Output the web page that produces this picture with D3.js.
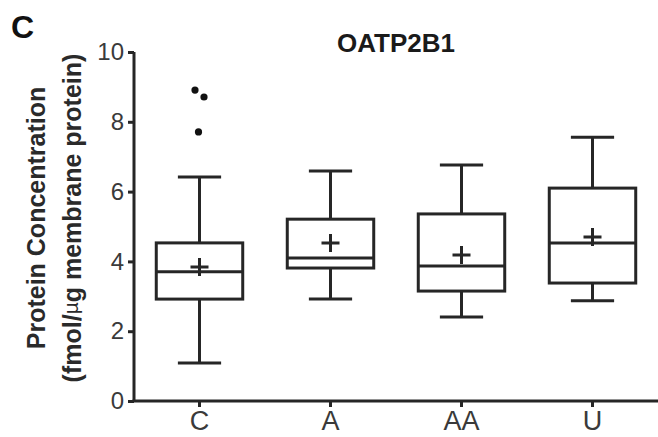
<!DOCTYPE html>
<html>
<head>
<meta charset="utf-8">
<script src="https://cdn.jsdelivr.net/npm/d3@7"></script>
<style>
  html, body { margin: 0; padding: 0; background: #fff; }
  svg { display: block; font-family: "Liberation Sans", Arial, Helvetica, sans-serif; }
</style>
</head>
<body>
<div id="chart"></div>
<script>
// Box plot OATP2B1
var width = 658
var height = 437

const groups = ["C", "A", "AA", "U"]
const whiskerLow = [1.09, 2.92, 2.41, 2.87]
const q1 = [2.92, 3.81, 3.15, 3.38]
const median = [3.70, 4.10, 3.87, 4.53]
const q3 = [4.53, 5.21, 5.36, 6.10]
const whiskerHigh = [6.42, 6.59, 6.76, 7.56]
const means = [3.84, 4.53, 4.18, 4.70]
const outlierGroup = ["C", "C", "C"]
const outlierValue = [8.91, 8.71, 7.71]
const yTicks = [0, 2, 4, 6, 8, 10]

const ink = "#262626"
const margin = {top: 52, right: 0, bottom: 36, left: 134}

const svg = d3.select("#chart")
  .append("svg")
    .attr("width", width)
    .attr("height", height)

const x = d3.scaleBand()
  .domain(groups)
  .range([margin.left, width - margin.right])
  .padding(0)

const y = d3.scaleLinear()
  .domain([0, 10])
  .range([height - margin.bottom, margin.top])

// Axes
const yAxis = svg.append("g")
  .attr("transform", `translate(${margin.left},0)`)
  .call(d3.axisLeft(y).tickValues(yTicks).tickSize(6).tickPadding(4).tickFormat(d3.format("d")))
yAxis.select(".domain").attr("stroke", ink).attr("stroke-width", 3).attr("d", `M0,${y(0)}V${y(10)}`)
yAxis.selectAll(".tick line").attr("stroke", ink).attr("stroke-width", 3)
yAxis.selectAll(".tick text").attr("fill", "#3a3a3a").style("font-size", "24px")

const xAxis = svg.append("g")
  .attr("transform", `translate(0,${y(0)})`)
  .call(d3.axisBottom(x).tickSize(6).tickPadding(4))
xAxis.select(".domain").attr("stroke", ink).attr("stroke-width", 3).attr("d", `M${margin.left - 1.5},0H${width}`)
xAxis.selectAll(".tick line").attr("stroke", ink).attr("stroke-width", 3)
xAxis.selectAll(".tick text").attr("fill", "#3a3a3a").style("font-size", "27px")

// Boîtes
const bw = x.bandwidth()
const boxW = bw * 0.66
const capW = bw * 0.33
const data = groups.map((g, i) => ({g: g, lo: whiskerLow[i], q1: q1[i], med: median[i], q3: q3[i], hi: whiskerHigh[i], mean: means[i]}))
const cx = d => x(d.g) + bw / 2

const boxes = svg.append("g")
  .attr("stroke", ink)
  .attr("stroke-width", 3)
  .attr("fill", "none")

boxes.selectAll(".whisker")
  .data(data)
  .join("path")
    .attr("d", d => `M${cx(d)},${y(d.q3)}V${y(d.hi)}M${cx(d) - capW / 2},${y(d.hi)}H${cx(d) + capW / 2}` +
                    `M${cx(d)},${y(d.q1)}V${y(d.lo)}M${cx(d) - capW / 2},${y(d.lo)}H${cx(d) + capW / 2}`)

boxes.selectAll("rect")
  .data(data)
  .join("rect")
    .attr("x", d => cx(d) - boxW / 2)
    .attr("y", d => y(d.q3))
    .attr("width", boxW)
    .attr("height", d => y(d.q1) - y(d.q3))

boxes.selectAll(".median")
  .data(data)
  .join("line")
    .attr("x1", d => cx(d) - boxW / 2)
    .attr("x2", d => cx(d) + boxW / 2)
    .attr("y1", d => y(d.med))
    .attr("y2", d => y(d.med))

// Moyenne (+)
const plus = 9
boxes.selectAll(".mean")
  .data(data)
  .join("path")
    .attr("d", d => `M${cx(d) - plus},${y(d.mean)}H${cx(d) + plus}M${cx(d)},${y(d.mean) - plus}V${y(d.mean) + plus}`)

// Points aberrants, écartés quand les valeurs sont proches
const outliers = outlierValue.map((v, i) => ({g: outlierGroup[i], v: v}))
outliers.forEach((o, i) => {
  const near = outliers.filter((p, j) => j !== i && p.g === o.g && Math.abs(p.v - o.v) < 0.4)
  o.dx = near.length ? (o.v > near[0].v ? -4.5 : 4.5) : -1
})
svg.selectAll(".outlier")
  .data(outliers)
  .join("circle")
    .attr("cx", d => x(d.g) + bw / 2 + d.dx)
    .attr("cy", d => y(d.v))
    .attr("r", 3.6)
    .attr("fill", "#111")

// Titres
svg.append("text")
  .attr("x", (margin.left + width) / 2)
  .attr("y", 52)
  .attr("text-anchor", "middle")
  .style("font-size", "26px")
  .style("font-weight", "bold")
  .attr("fill", "#1a1a1a")
  .text("OATP2B1")

svg.append("text")
  .attr("x", 11)
  .attr("y", 38)
  .style("font-size", "32px")
  .style("font-weight", "bold")
  .attr("fill", "#111")
  .text("C")

const ylab = svg.append("text")
  .attr("transform", "translate(45,218) rotate(-90)")
  .attr("text-anchor", "middle")
  .style("font-size", "25px")
  .style("font-weight", "bold")
  .attr("fill", "#2a2a2a")
ylab.append("tspan").attr("x", 0).attr("y", 0).text("Protein Concentration")
const l2 = ylab.append("tspan").attr("x", 0).attr("y", 36)
l2.append("tspan").text("(fmol/")
l2.append("tspan").style("font-weight", "normal").style("font-size", "21px").attr("dy", -3).text("µ")
l2.append("tspan").attr("dy", 3).text("g membrane protein)")
</script>
</body>
</html>
